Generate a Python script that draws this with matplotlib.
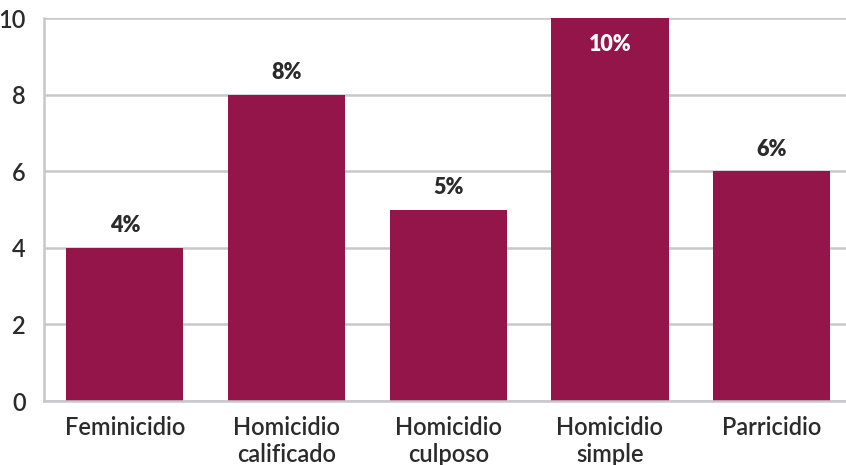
import matplotlib.pyplot as plt

categories = ["Feminicidio", "Homicidio\ncalificado", "Homicidio\nculposo",
              "Homicidio\nsimple", "Parricidio"]
values = [4, 8, 5, 10, 6]
value_labels = ["4%", "8%", "5%", "10%", "6%"]
yticks = [0, 2, 4, 6, 8, 10]

BAR = "#93154a"
GRID = "#c8c8cb"
TEXT = "#2b2b2b"

plt.rcParams["font.family"] = ["Lato", "DejaVu Sans"]

fig = plt.figure(figsize=(8.46, 4.65), dpi=100)
ax = fig.add_axes([0.052, 0.1376, 0.948, 0.8234])

x = range(len(categories))
ax.bar(x, values, width=0.725, color=BAR, zorder=2)

for i, (v, lab) in enumerate(zip(values, value_labels)):
    if v >= 10:
        ax.text(i, v - 0.42, lab, ha="center", va="top", color="white",
                fontsize=15.5, fontweight="heavy")
    else:
        ax.text(i, v + 0.3, lab, ha="center", va="bottom", color=TEXT,
                fontsize=15.5, fontweight="heavy")

ax.set_xlim(-0.5, 4.46)
ax.set_ylim(0, 10)
ax.set_yticks(yticks)
ax.set_xticks(list(x))
ax.set_xticklabels(categories, fontsize=17, color=TEXT, linespacing=1.22,
                   fontweight="semibold")
for lab in ax.get_yticklabels():
    lab.set_fontweight("semibold")
ax.tick_params(axis="y", labelsize=17, labelcolor=TEXT, length=0, pad=13)
ax.tick_params(axis="x", length=0, pad=11)

ax.grid(axis="y", color=GRID, linewidth=1.8, zorder=0)
for side in ["top", "right"]:
    ax.spines[side].set_visible(False)
for side in ["left", "bottom"]:
    ax.spines[side].set_color(GRID)
    ax.spines[side].set_linewidth(1.8)

fig.savefig("out.png", dpi=100)
